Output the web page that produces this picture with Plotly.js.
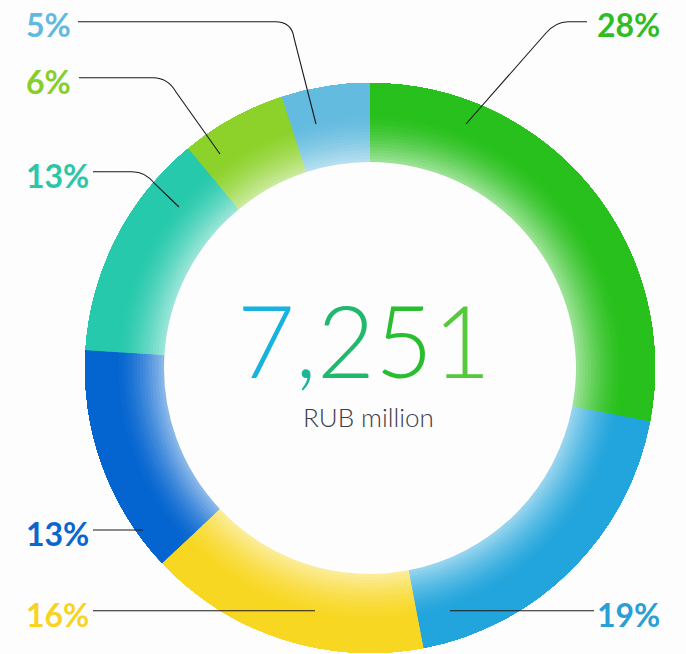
<!DOCTYPE html>
<html>
<head>
<meta charset="utf-8">
<script src="https://cdn.plot.ly/plotly-3.0.1.min.js"></script>
<style>html,body{margin:0;padding:0;background:#fdfdfe;}#chart{width:686px;height:654px;}</style>
</head>
<body>
<div id="chart"></div>
<script>
// ---- data ----
const shares = [28, 19, 16, 13, 13, 6, 5];
const sliceColors = ['#28c01c', '#22a5dc', '#f8d722', '#0565d0', '#26c9ac', '#8cd22a', '#63bbdf'];
const labelColors = ['#2ebd25', '#2a9fd6', '#f8d31f', '#0a66cc', '#2cc6a6', '#86cf2a', '#62b9df'];
const totalValue = '7,251';
const totalDigitColors = ['#17b2dd', '#1bb59c', '#20b86d', '#29bd30', '#55c83c'];
const unitLabel = 'RUB million';

// ---- layout helpers ----
const W = 686, H = 654;
const cx = 370, cy = 368, R = 285, rIn = 206;
const X = x => x / W;
const Y = y => 1 - y / H;

function hexToRgb(h) { return [1, 3, 5].map(i => parseInt(h.substr(i, 2), 16)); }
function blend(h, w) {
  const c = hexToRgb(h);
  return 'rgb(' + c.map(v => Math.round(v + (255 - v) * w)).join(',') + ')';
}

const h0 = rIn / R;
const N = 26;
const traces = [];
for (let k = 0; k < N; k++) {
  const t = (k + 0.5) / N;
  const w = t < 0.6 ? 0.55 * Math.pow(1 - t / 0.6, 1.5) : 0;
  traces.push({
    type: 'pie',
    values: shares,
    sort: false,
    direction: 'clockwise',
    rotation: 0,
    hole: h0 + (1 - h0) * k / N,
    textinfo: 'none',
    hoverinfo: 'none',
    showlegend: false,
    marker: { colors: sliceColors.map(c => blend(c, w)), line: { width: 0 } },
    domain: { x: [X(cx - R), X(cx + R)], y: [Y(cy + R), Y(cy - R)] }
  });
}

// label positions (pixel) and leader paths
const labelPos = [
  { x: 662, y: 25, anchor: 'right' },
  { x: 662, y: 614, anchor: 'right' },
  { x: 24, y: 614, anchor: 'left' },
  { x: 24, y: 533, anchor: 'left' },
  { x: 24, y: 175, anchor: 'left' },
  { x: 24, y: 82, anchor: 'left' },
  { x: 24, y: 25, anchor: 'left' }
];
const leaders = [
  [['M', 587, 21.7], ['L', 568, 21.7], ['Q', 556, 21.7, 546, 33], ['L', 466, 124]],
  [['M', 594, 610.7], ['L', 450, 610.7]],
  [['M', 93, 610.7], ['L', 315, 610.7]],
  [['M', 93, 530], ['L', 143, 530]],
  [['M', 93, 171.7], ['L', 132, 171.7], ['Q', 146, 171.7, 155, 184], ['L', 179, 207]],
  [['M', 79, 77.7], ['L', 153, 77.7], ['Q', 168, 77.7, 176, 92], ['L', 220, 154]],
  [['M', 78, 21.7], ['L', 275, 21.7], ['Q', 292, 21.7, 294, 38], ['L', 316, 124]]
];
function pathStr(cmds) {
  return cmds.map(c => {
    const pts = [];
    for (let i = 1; i < c.length; i += 2) pts.push(X(c[i]) + ',' + Y(c[i + 1]));
    return c[0] + pts.join(' ');
  }).join(' ');
}

const annotations = shares.map((v, i) => ({
  xref: 'paper', yref: 'paper',
  x: X(labelPos[i].x), y: Y(labelPos[i].y),
  xanchor: labelPos[i].anchor, yanchor: 'middle',
  text: v + '%', showarrow: false,
  font: { family: 'Lato, sans-serif', size: 32, weight: 700, color: labelColors[i] }
}));

const digits = totalValue.split('').map((ch, i) =>
  '<span style="color:' + totalDigitColors[i] + '">' + ch + '</span>').join('');
annotations.push({
  xref: 'paper', yref: 'paper', x: X(364), y: Y(339),
  xanchor: 'center', yanchor: 'middle', showarrow: false,
  text: digits,
  font: { family: 'Lato, sans-serif', size: 100, weight: 300, color: '#20b86d' }
});
annotations.push({
  xref: 'paper', yref: 'paper', x: X(369), y: Y(417),
  xanchor: 'center', yanchor: 'middle', showarrow: false,
  text: unitLabel,
  font: { family: 'Lato, sans-serif', size: 26, weight: 300, color: '#3b3c48' }
});

const shapes = leaders.map(p => ({
  type: 'path', xref: 'paper', yref: 'paper', path: pathStr(p),
  line: { color: '#1a1a1a', width: 1.1 }
}));

const layout = {
  width: W, height: H,
  margin: { l: 0, r: 0, t: 0, b: 0 },
  paper_bgcolor: '#fdfdfe',
  plot_bgcolor: '#fdfdfe',
  showlegend: false,
  annotations: annotations,
  shapes: shapes
};

Plotly.newPlot('chart', traces, layout, { staticPlot: true, displayModeBar: false });
</script>
</body>
</html>
